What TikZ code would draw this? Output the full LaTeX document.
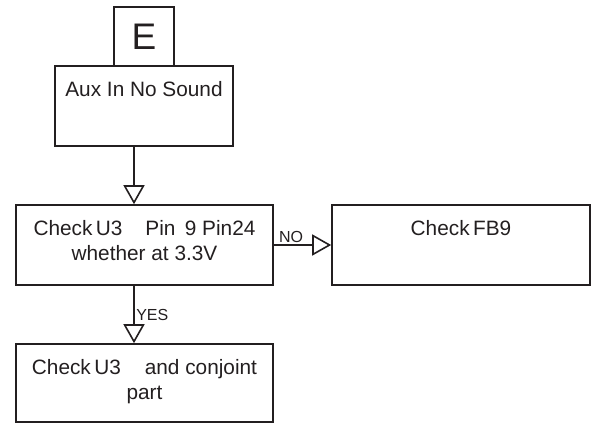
\documentclass[tikz,border=0pt]{standalone}
\usepackage{fontspec}
\setmainfont{Liberation Sans}
\usepackage{xcolor}
\usetikzlibrary{arrows.meta}

\definecolor{ink}{RGB}{35,31,32}
\tikzset{
  box/.style={draw=ink,line width=1.6pt,inner sep=0pt},
  boxtext/.style={anchor=north,yshift=-16.5pt,align=center,inner sep=0pt,
    text=ink,font=\fontsize{20.8}{25}\selectfont},
  flow/.style={draw=ink,line width=1.6pt,-{Triangle[open,length=19pt,width=21pt]}},
  flowlabel/.style={text=ink,inner sep=1.5pt,font=\fontsize{16}{18}\selectfont},
}

\begin{document}
\begin{tikzpicture}[x=1pt,y=-1pt]
  \useasboundingbox (0,0) rectangle (605,427);
  % fault case
  \node[box,minimum width=178pt,minimum height=80pt,
    label={[boxtext]north:Aux In No Sound}] (aux) at (144,106) {};
  % tag on top
  \node[box,minimum width=60pt,minimum height=59pt,text=ink,
    font=\fontsize{37}{40}\selectfont] (tag) at (144,36.5) {E};
  % voltage check
  \node[box,minimum width=257pt,minimum height=80pt,
    label={[boxtext]north:Check\,U3\hspace{1.1em}Pin\hspace{0.45em}9 Pin24\\whether at 3.3V}]
    (volt) at (144.5,245) {};
  % NO branch
  \node[box,minimum width=258pt,minimum height=80pt,
    label={[boxtext]north:Check\,FB9}] (fb) at (461,245) {};
  % YES branch
  \node[box,minimum width=257pt,minimum height=78pt,
    label={[boxtext]north:Check\,U3\hspace{1.15em}and conjoint\\part}]
    (part) at (144.5,383) {};
  % connectors
  \draw[flow] ([xshift=-10pt]aux.south) -- ([xshift=-10pt]aux.south |- volt.north);
  \draw[flow] (volt.east) -- (fb.west) node[flowlabel,pos=0.3,above]{NO};
  \draw[flow] ([xshift=-10.5pt]volt.south) -- ([xshift=-10.5pt]volt.south |- part.north)
    node[flowlabel,pos=0.5,anchor=west]{YES};
\end{tikzpicture}
\end{document}
